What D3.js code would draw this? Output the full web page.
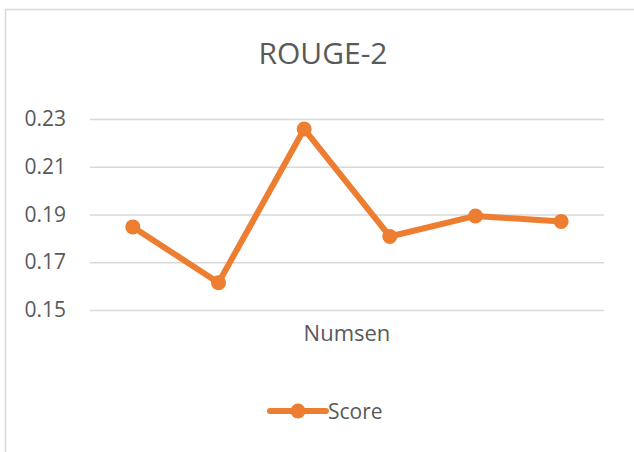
<!DOCTYPE html>
<html>
<head>
<meta charset="utf-8">
<script src="https://cdn.jsdelivr.net/npm/d3@7"></script>
<style>
  html, body { margin: 0; padding: 0; background: #fff; }
  svg text { font-family: "Open Sans", "Noto Sans", sans-serif; fill: #595959; }
</style>
</head>
<body>
<div class="chartBox"></div>
<script>
// chart data
var categories = ["1", "2", "3", "4", "5", "6"];
var scores = [0.1848, 0.1614, 0.2258, 0.1808, 0.1894, 0.1871];
var yTicks = [0.15, 0.17, 0.19, 0.21, 0.23];
var seriesName = "Score";
var axisTitle = "Numsen";
var chartTitle = "ROUGE-2";

var W = 634, H = 452;
var orange = "#ED7D31", grid = "#d9d9d9";
var plot = {left: 90, right: 604, top: 119, bottom: 310};

var svg = d3.select(".chartBox").append("svg")
  .attr("width", W)
  .attr("height", H);

// chart area frame (only top & left edge show in the crop)
svg.append("rect")
  .attr("x", 5.5).attr("y", 9.5)
  .attr("width", W + 10).attr("height", H + 10)
  .attr("fill", "#fff")
  .attr("stroke", grid)
  .attr("stroke-width", 1.5);

var x = d3.scaleBand().domain(categories).range([plot.left, plot.right]);
var y = d3.scaleLinear().domain([0.15, 0.23]).range([plot.bottom, plot.top]);

// gridlines + tick labels
var yAxis = d3.axisLeft(y)
  .tickValues(yTicks)
  .tickFormat(d3.format(".2f"))
  .tickSize(-(plot.right - plot.left))
  .tickPadding(24);

var gy = svg.append("g")
  .attr("transform", "translate(" + plot.left + ",0)")
  .call(yAxis);
gy.select(".domain").remove();
gy.selectAll(".tick line").attr("stroke", grid).attr("stroke-width", 1.5);
gy.selectAll(".tick text")
  .attr("font-size", 21)
  .style("font-family", "'Open Sans', sans-serif")
  .attr("fill", "#595959");

// title, centred on the whole chart area
svg.append("text")
  .attr("x", 323)
  .attr("y", 64)
  .attr("text-anchor", "middle")
  .attr("font-size", 30)
  .text(chartTitle);

// category axis title
svg.append("text")
  .attr("x", (plot.left + plot.right) / 2)
  .attr("y", 341)
  .attr("text-anchor", "middle")
  .attr("font-size", 22)
  .text(axisTitle);

// series line
var line = d3.line()
  .x(function(d, i) { return x(categories[i]) + x.bandwidth() / 2; })
  .y(function(d) { return y(d); });

svg.append("path")
  .datum(scores)
  .attr("d", line)
  .attr("fill", "none")
  .attr("stroke", orange)
  .attr("stroke-width", 6)
  .attr("stroke-linejoin", "round");

svg.selectAll(".dot")
  .data(scores)
  .enter().append("circle")
  .attr("class", "dot")
  .attr("cx", function(d, i) { return x(categories[i]) + x.bandwidth() / 2; })
  .attr("cy", function(d) { return y(d); })
  .attr("r", 7.5)
  .attr("fill", orange);

// legend
var lg = svg.append("g").attr("transform", "translate(270,411)");
lg.append("line")
  .attr("x1", 0).attr("x2", 56)
  .attr("y1", 0).attr("y2", 0)
  .attr("stroke", orange)
  .attr("stroke-width", 6)
  .attr("stroke-linecap", "round");
lg.append("circle").attr("cx", 28).attr("cy", 0).attr("r", 7.5).attr("fill", orange);
lg.append("text")
  .attr("x", 58)
  .attr("y", 8)
  .attr("font-size", 21)
  .text(seriesName);
</script>
</body>
</html>
